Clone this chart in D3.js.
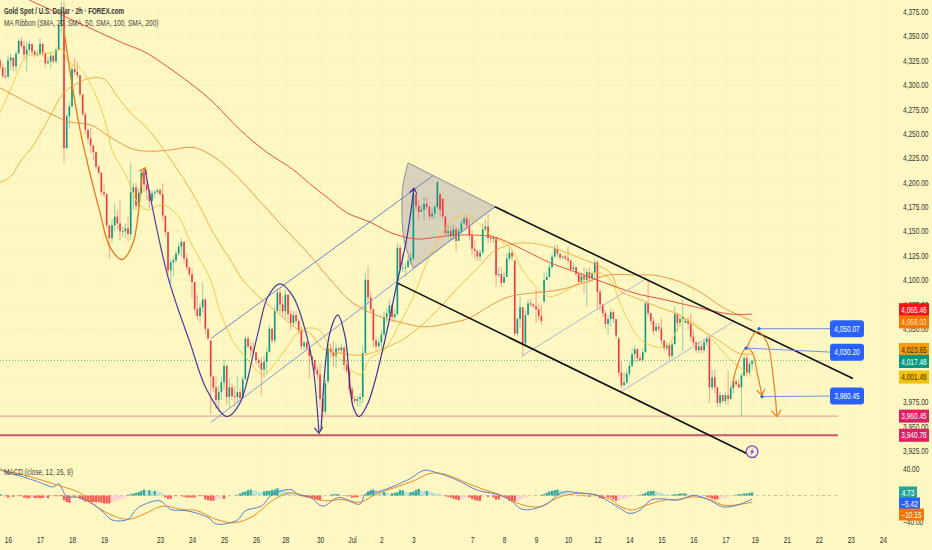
<!DOCTYPE html>
<html>
<head>
<meta charset="utf-8">
<script src="https://cdn.jsdelivr.net/npm/d3@7"></script>
<style>
  html, body { margin: 0; padding: 0; background: #fdf7c2; }
  svg { display: block; font-family: "Liberation Sans", sans-serif; }
</style>
</head>
<body>
<div id="chart"></div>
<script>
// 2h candles, one entry per bar
const opens = [
  4325,4318,4309,4308,4325,4328,4319,4332,4345,4340,
  4331,4336,4342,4334,4331,4332,4342,4333,4322,4324,
  4330,4324,4336,4361,4375,4235,4268,4278,4316,4313,
  4310,4290,4270,4254,4245,4238,4231,4216,4210,4190,
  4188,4156,4143,4156,4165,4158,4150,4150,4153,4147,
  4190,4195,4176,4189,4210,4198,4192,4181,4189,4190,
  4192,4188,4166,4149,4110,4118,4120,4127,4134,4139,
  4122,4113,4106,4098,4070,4063,4072,4080,4050,4038,
  4001,3990,3977,3985,3995,4012,3980,3990,3981,3980,
  3985,3979,3998,4040,4032,4028,4026,4018,4015,4008,
  4016,4026,4050,4038,4068,4087,4075,4068,4085,4065,
  4056,4064,4058,4048,4032,4036,4030,4022,4018,4008,
  4003,3978,3965,3996,4030,4026,4022,4030,4028,4031,
  4013,4007,3988,3978,3976,3978,3980,4025,4100,4082,
  4070,4038,4032,4036,4044,4062,4066,4074,4062,4065,
  4133,4112,4112,4113,4120,4122,4188,4176,4170,4172,
  4178,4175,4165,4168,4175,4188,4183,4165,4148,4150,
  4145,4152,4140,4150,4158,4163,4156,4146,4132,4130,
  4124,4128,4152,4155,4143,4142,4144,4105,4106,4097,
  4103,4122,4128,4120,4045,4060,4072,4035,4064,4076,
  4075,4073,4070,4063,4078,4100,4103,4113,4124,4132,
  4127,4123,4124,4122,4120,4111,4113,4106,4098,4104,
  4100,4108,4102,4107,4118,4088,4075,4066,4055,4060,
  4067,4060,4040,4005,3992,3995,4004,4012,4024,4029,
  4020,4018,4026,4076,4066,4058,4048,4052,4050,4038,
  4030,4033,4022,4034,4065,4056,4060,4056,4058,4055,
  4042,4036,4028,4032,4028,4036,4040,3990,4000,3990,
  3974,3982,3976,3982,3978,3989,3996,3993,3990,4002,
  4020,4005,4014
];
const highs = [
  4328,4322,4318,4330,4332,4325,4335,4347,4349,4345,
  4344,4345,4341,4336,4336,4348,4343,4331,4329,4334,
  4331,4339,4363,4385,4385,4270,4282,4320,4328,4324,
  4309,4290,4272,4254,4256,4233,4232,4218,4210,4197,
  4186,4156,4162,4179,4172,4182,4155,4158,4165,4220,
  4199,4199,4194,4214,4212,4213,4192,4192,4192,4194,
  4194,4199,4166,4150,4121,4124,4131,4138,4143,4140,
  4127,4113,4112,4090,4085,4076,4097,4082,4050,4038,
  4002,4001,3991,4001,4018,4013,3999,3994,3991,4001,
  3989,4001,4042,4043,4036,4036,4024,4020,4021,4022,
  4030,4054,4050,4073,4091,4091,4083,4090,4085,4069,
  4068,4068,4060,4052,4038,4038,4032,4021,4018,4012,
  4015,3975,3998,4035,4035,4038,4035,4032,4035,4032,
  4018,4008,3991,3981,3981,3984,4032,4107,4114,4088,
  4071,4042,4040,4048,4068,4071,4080,4076,4070,4138,
  4136,4127,4117,4124,4127,4192,4185,4182,4177,4185,
  4185,4175,4174,4177,4202,4189,4184,4165,4156,4155,
  4157,4155,4153,4162,4165,4167,4163,4151,4141,4131,
  4131,4158,4162,4168,4146,4146,4145,4113,4113,4109,
  4127,4134,4131,4120,4062,4083,4071,4069,4080,4081,
  4076,4090,4076,4074,4108,4108,4117,4127,4136,4136,
  4127,4125,4126,4134,4119,4118,4113,4109,4108,4113,
  4112,4113,4109,4121,4120,4091,4074,4069,4064,4071,
  4069,4058,4042,4016,4005,4008,4016,4030,4033,4030,
  4024,4030,4078,4100,4066,4062,4056,4056,4061,4038,
  4036,4035,4037,4073,4064,4064,4080,4061,4062,4066,
  4049,4037,4037,4035,4040,4042,4042,4008,4008,3985,
  3985,3981,3985,4008,3992,4001,3998,3998,4005,4022,
  4023,4016,4018
];
const lows = [
  4316,4307,4306,4313,4315,4314,4314,4334,4337,4325,
  4314,4332,4330,4328,4329,4331,4329,4318,4322,4317,
  4322,4322,4338,4353,4220,4235,4255,4277,4310,4307,
  4287,4268,4250,4240,4230,4223,4213,4208,4187,4185,
  4153,4122,4138,4150,4152,4141,4144,4143,4140,4141,
  4172,4172,4175,4188,4190,4182,4174,4180,4184,4188,
  4186,4161,4145,4104,4097,4104,4118,4124,4124,4117,
  4110,4103,4081,4066,4059,4056,4066,4045,4038,3963,
  3985,3968,3965,3977,3987,3972,3968,3977,3970,3974,
  3977,3979,4000,4030,4022,4024,4014,4010,3982,3999,
  4004,4029,4035,4035,4069,4066,4062,4061,4059,4049,
  4052,4054,4044,4028,4028,4027,3999,4012,4004,3998,
  3970,3958,3962,3994,4021,4011,4010,4025,4025,4008,
  4004,3984,3973,3973,3970,3970,3974,4028,4076,4067,
  4031,4028,4030,4030,4042,4057,4062,4057,4058,4064,
  4107,4108,4103,4115,4116,4120,4172,4161,4170,4161,
  4172,4161,4163,4163,4172,4165,4163,4146,4144,4141,
  4141,4129,4141,4148,4158,4153,4141,4126,4122,4120,
  4119,4127,4150,4138,4138,4138,4093,4103,4093,4097,
  4105,4119,4120,4042,4042,4051,4021,4033,4064,4072,
  4071,4056,4059,4054,4077,4101,4105,4112,4123,4124,
  4120,4121,4120,4117,4108,4110,4103,4095,4097,4086,
  4073,4097,4098,4100,4069,4069,4062,4050,4044,4052,
  4056,4040,4001,3989,3991,3993,4001,4010,4015,4016,
  4016,4016,4028,4062,4054,4044,4047,4047,4034,4027,
  4027,4018,4020,4039,4047,4052,4027,4056,4049,4037,
  4033,4025,4025,4025,4027,4032,3974,3987,3984,3970,
  3970,3974,3972,3972,3984,3984,3991,3989,3960,4001,
  4001,4003,4008
];
const closes = [
  4318,4309,4308,4325,4328,4319,4332,4345,4340,4331,
  4336,4342,4334,4331,4332,4342,4333,4322,4324,4330,
  4324,4336,4361,4375,4235,4268,4278,4316,4313,4310,
  4290,4270,4254,4245,4238,4231,4216,4210,4190,4188,
  4156,4143,4156,4165,4158,4150,4150,4153,4147,4190,
  4195,4176,4189,4210,4198,4192,4181,4189,4190,4192,
  4188,4166,4149,4110,4118,4120,4127,4134,4139,4122,
  4113,4106,4098,4070,4063,4072,4080,4050,4040,4001,
  3990,3977,3985,3995,4012,3980,3990,3981,3980,3985,
  3979,3998,4040,4032,4028,4026,4018,4015,4008,4016,
  4026,4050,4038,4068,4087,4075,4068,4085,4065,4056,
  4064,4058,4048,4032,4036,4030,4022,4018,4008,4003,
  3978,3965,3994,4030,4026,4022,4030,4028,4031,4013,
  4007,3988,3978,3976,3978,3980,4025,4100,4082,4070,
  4038,4032,4036,4044,4062,4066,4074,4062,4065,4133,
  4112,4112,4113,4120,4122,4188,4176,4170,4172,4178,
  4175,4165,4168,4175,4200,4172,4165,4148,4150,4145,
  4152,4140,4150,4158,4163,4156,4146,4132,4130,4124,
  4128,4152,4155,4143,4142,4144,4105,4106,4097,4103,
  4122,4128,4124,4045,4060,4072,4035,4064,4076,4075,
  4073,4070,4063,4058,4100,4103,4113,4124,4132,4127,
  4123,4124,4122,4120,4111,4113,4106,4098,4104,4100,
  4108,4102,4107,4118,4088,4075,4066,4055,4060,4067,
  4060,4043,4005,3992,3995,4004,4012,4024,4029,4020,
  4018,4026,4076,4066,4058,4048,4052,4050,4038,4030,
  4033,4022,4034,4065,4056,4060,4062,4058,4055,4042,
  4036,4028,4032,4028,4036,4040,3990,4000,3990,3974,
  3982,3976,3982,3978,3989,3996,3993,3990,4002,4020,
  4005,4014,4017
];

// moving averages, read at the bars listed
const sma20Bars = [0,5,10,15,21,23,26,30,35,40,42,48,51,55,61,67,71,79,82,87,93,99,104,109,112,116,120,124,129,135,139,144,150,155,160,164,170,175,179,185,191,196,202,206,213,220,224,229,232,236,241,249,252,256,260,266,274,282];
const sma20 = [4271,4302,4329,4331,4334,4337,4323,4317,4295,4257,4233,4203,4182,4172,4177,4165,4141,4100,4072,4039,4018,4003,4018,4036,4047,4051,4048,4030,4015,4003,4020,4028,4056,4083,4118,4139,4162,4166,4159,4144,4134,4110,4090,4083,4090,4103,4108,4100,4080,4056,4037,4031,4039,4059,4056,4042,4018,4001];
const sma50Bars = [0,4,8,12,18,24,30,34,39,44,49,55,61,69,75,80,87,91,97,106,112,116,121,127,136,144,151,157,165,171,179,185,191,198,206,216,229,232,240,247,255,261,269,277,282];
const sma50 = [4200,4206,4223,4236,4264,4292,4303,4307,4306,4288,4271,4256,4235,4203,4175,4148,4118,4100,4083,4062,4049,4046,4030,4025,4023,4030,4039,4051,4072,4090,4112,4129,4136,4138,4134,4124,4107,4090,4080,4072,4064,4052,4039,4025,4024];
const sma100Bars = [0,11,20,26,34,41,49,55,63,72,78,87,98,108,116,123,132,141,151,159,169,176,184,191,201,210,220,228,240,245,255,264,271,282];
const sma100 = [4297,4281,4269,4262,4259,4247,4235,4232,4233,4236,4230,4211,4179,4149,4126,4103,4077,4064,4056,4052,4056,4061,4074,4083,4087,4090,4098,4105,4105,4105,4098,4085,4072,4058];
const sma200Bars = [11,46,54,61,78,90,100,110,116,123,130,139,147,156,164,171,185,194,206,216,232,240,249,258,266,274,282];
const sma200 = [4387,4343,4334,4322,4287,4254,4231,4213,4199,4184,4169,4159,4148,4142,4144,4146,4144,4134,4118,4108,4092,4085,4080,4074,4069,4065,4065];

// MACD panel
const macdHist = [
  2,1,-1,-3,-2,-2,-1,-1,-1,-3,
  -4,-4,-3,-4,-4,-4,-4,-3,-4,-1,
  -1,-1,-1,-1,-7,-10,-11,-2,-2,-1,
  -5,-7,-9,-9,-10,-10,-10,-10,-11,-12,
  -12,-12,-11,-9,-8,-6,-5,-4,1,2,
  3,4,5,7,9,8,8,7,7,6,
  5,3,-3,-5,-5,-1,-1,0,-1,-2,
  -3,-3,-3,-3,-1,-1,-1,-6,-7,-8,
  -8,-7,-5,-4,-5,0,0,0,0,1,
  3,5,6,8,9,8,7,6,5,6,
  7,7,8,9,11,9,8,7,6,5,
  4,3,2,-1,-2,-3,-3,-4,-6,-7,
  -7,-2,-1,0,1,2,2,2,0,0,
  -1,-1,-3,-3,-3,-1,0,2,6,8,
  9,7,6,5,5,4,3,3,4,5,
  8,8,6,5,5,6,8,10,8,7,
  7,6,5,4,3,2,1,-1,-2,-3,
  -5,-6,-7,-5,-4,-3,-3,-5,-7,-8,
  -8,-2,-1,-2,-1,-3,-6,-6,-2,-2,
  -4,-8,-9,-9,-8,-6,-5,-3,-2,-1,
  0,0,0,1,2,4,6,7,8,9,
  8,6,5,4,3,2,0,-1,-1,-1,
  -1,-2,-1,-1,-1,-4,-5,-3,-3,-3,
  -6,-8,-7,-6,-5,-4,-2,-1,0,0,
  1,2,4,6,7,7,6,5,4,3,
  2,1,1,2,2,3,3,3,2,1,
  1,0,0,0,0,-2,-3,-5,-6,-6,
  -5,-4,-3,-2,-1,0,1,2,2,3,
  3,4,4.73
];
const macdBars = [0,3,8,14,20,22,25,30,34,39,42,48,51,55,60,64,70,78,81,89,92,98,102,109,112,116,121,127,135,137,142,147,154,159,164,171,179,186,191,196,204,211,217,224,232,236,240,244,248,254,260,265,271,276,282];
const macdLine = [41,34,29,21,13,18,-1,-3,-11,-26,-37,-36,-21,-12,-8,-21,-23,-33,-43,-37,-23,-16,1,9,1,-2,-16,-3,-13,2,6,13,26,38,34,24,8,2,-6,-21,-15,5,4,0,-18,-27,-22,-7,-5,-7,0,-5,-17,-15,-5.42];
const signalBars = [0,8,15,22,30,35,41,48,54,61,68,74,81,88,95,102,109,116,122,128,135,141,148,155,161,166,175,182,187,195,202,210,216,222,229,232,237,242,249,254,260,266,272,282];
const signalLine = [38,32,24,15,4,-13,-28,-36,-28,-16,-21,-23,-36,-41,-31,-8,4,-3,-8,-6,-10,2,12,22,33,33,19,8,2,-13,-17,-2,3,2,-6,-15,-22,-15,-7,-6,-2,-6,-15,-10.15];

// axis labels
const priceTicks = [4375,4350,4325,4300,4275,4250,4225,4200,4175,4150,4125,4100,4075,4050,3975,3950,3925];
const macdTicks = [40,-40];
const dateBars = [3,15,27,39,60,72,84,96,107,120,132,143,155,177,189,201,213,224,236,248,260,272,283,295,307,319,331];
const dateLabels = ['16','17','18','19','23','24','25','26','28','30','Jul','2','3','7','8','9','10','12','14','15','16','17','19','21','22','23','24'];

// drawings on the chart: [bar, price]
const channelTop = [[185.6,4175],[319.8,3999]];
const channelBottom = [[148.9,4097],[283.1,3918]];
const riseUpper = [[79.1,4040],[162.4,4207]];
const riseLower = [[79.1,3954],[185.6,4175]];
const flagUpper = [[195.7,4022],[242.6,4102]];
const flagLower = [[232.5,3985],[274.9,4057]];
const wedgeArc = [[153,4220],[151.1,4197],[150.7,4175],[151.5,4141],[154.9,4112]];
const wedgeCorner = [185.6,4175];
const swingOrange = [[23.6,4363],[30,4254],[37.5,4169],[41.2,4134],[45.7,4121],[49.9,4138],[53.6,4210],[54.4,4215]];
const swingPurpleA = [[54.4,4213],[63,4103],[71.2,4036],[77.6,3987],[85.1,3960],[90,3974],[96.4,4042],[100.5,4083],[105,4096],[109.9,4083],[115.1,4042],[117.4,4011],[119.6,3943]];
const swingPurpleB = [[120.4,3946],[123.7,4046],[126.7,4064],[129.4,4042],[132.4,3970],[134.6,3960],[138,3974],[143.2,4025],[148.9,4097],[152.6,4144],[155.2,4194]];
const pathNear = [[274.5,3990],[276.3,4011],[279.7,4030],[282,4026],[284.2,4001],[285.7,3982]];
const pathFar = [[279.7,4028],[283.8,4047],[287.6,4036],[289.9,4001],[291.3,3960]];

// blue callouts
const calloutBars = [284.6,279.7,285.7];
const calloutPrices = [4050.07,4030.20,3980.45];
const calloutEnds = [4050.07,4026,3981];

const levelPrices = [3960.45,3940.78];
const lastPrice = 4017.48;

// price tags on the right
const tagValues = [4065.46,4058.03,4023.65,4017.48,4001.49,3960.45,3940.78];
const tagFills = ['#f2161a','#f57600','#f59a10','#089981','#f3c20c','#e01e63','#e01e63'];
const tagTexts = ['#fff','#ffe9c8','#402a00','#fff','#402a00','#fff','#fff'];
const tagShift = [-4,1,-5,1,1,0,0];
const macdTagValues = [4.73,-5.42,-10.15];
const macdTagFills = ['#26a69a','#2962ff','#f57600'];
const macdTagWidth = [18,21,25];
const macdTagTop = [486.5,497.5,508.5];

const width = 932, height = 550, plotRight = 838;
const barStep = 2.667;
const fontSize = 8.6;

const svg = d3.select('#chart').append('svg').attr('width', width).attr('height', height);
svg.append('rect').attr('width', width).attr('height', height).attr('fill', '#fdf7c2');

const x = d3.scaleLinear().domain([0, plotRight / barStep]).range([0, plotRight]);
const y = d3.scaleLinear().domain([3925, 4375]).range([450.7, 11.7]);
const macdY = d3.scaleLinear().domain([-40, 40]).range([522, 469]);

// the picture is squeezed sideways, so the text is too
function squeeze(sel, k) {
  sel.each(function () {
    d3.select(this).attr('textLength', this.getComputedTextLength() * k).attr('lengthAdjust', 'spacingAndGlyphs');
  });
}

// grid
const grid = svg.append('g').attr('class', 'grid').attr('stroke', '#f8f1bb').attr('stroke-width', 1);
grid.selectAll('.h').data(priceTicks.concat([4025, 4000])).join('line').attr('class', 'h')
  .attr('x1', 0).attr('x2', plotRight).attr('y1', d => y(d)).attr('y2', d => y(d));
grid.selectAll('.v').data(dateBars).join('line').attr('class', 'v')
  .attr('x1', d => x(d)).attr('x2', d => x(d)).attr('y1', 0).attr('y2', 528);

// triangle shade
const linePts = d3.line().x(d => x(d[0])).y(d => y(d[1]));
const smooth = d3.line().x(d => x(d[0])).y(d => y(d[1])).curve(d3.curveCatmullRom.alpha(0.5));
svg.append('path')
  .attr('d', smooth(wedgeArc) + `L${x(wedgeCorner[0])},${y(wedgeCorner[1])}Z`)
  .attr('fill', '#9f8fb0').attr('fill-opacity', 0.36)
  .attr('stroke', '#8c8c9c').attr('stroke-width', 1);

// price levels
svg.selectAll('.level').data(levelPrices).join('line').attr('class', 'level')
  .attr('x1', 0).attr('x2', plotRight).attr('y1', d => y(d)).attr('y2', d => y(d))
  .attr('stroke', (d, i) => i == 0 ? '#f2a5a0' : '#cc5670')
  .attr('stroke-width', (d, i) => i == 0 ? 1.2 : 2);
svg.append('line').attr('x1', 0).attr('x2', plotRight).attr('y1', y(lastPrice)).attr('y2', y(lastPrice))
  .attr('stroke', '#4fae8c').attr('stroke-width', 0.8).attr('stroke-dasharray', '1,2');

// candles
const bars = d3.range(closes.length);
const candleColor = i => closes[i] >= opens[i] ? '#089981' : '#f23645';
const candles = svg.append('g').attr('class', 'candles');
candles.selectAll('line').data(bars).join('line')
  .attr('x1', i => x(i)).attr('x2', i => x(i))
  .attr('y1', i => y(highs[i])).attr('y2', i => y(lows[i]))
  .attr('stroke', candleColor).attr('stroke-opacity', 0.55).attr('stroke-width', 0.8);
candles.selectAll('rect').data(bars).join('rect')
  .attr('x', i => x(i) - 0.8).attr('width', 1.6)
  .attr('y', i => y(Math.max(opens[i], closes[i])))
  .attr('height', i => Math.max(0.8, Math.abs(y(opens[i]) - y(closes[i]))))
  .attr('fill', candleColor);

// ribbon
const maSeries = [
  { bars: sma20Bars, values: sma20, color: '#f2c53a', w: 0.9 },
  { bars: sma50Bars, values: sma50, color: '#f2aa35', w: 0.9 },
  { bars: sma100Bars, values: sma100, color: '#ee8a3a', w: 0.9 },
  { bars: sma200Bars, values: sma200, color: '#e8503f', w: 1 }
];
maSeries.forEach(s => {
  svg.append('path')
    .attr('d', smooth(s.bars.map((b, i) => [b, s.values[i]])))
    .attr('fill', 'none').attr('stroke', s.color).attr('stroke-width', s.w);
});

// straight drawings
const straight = [
  { pts: riseUpper, color: '#6f84c9', w: 1 },
  { pts: riseLower, color: '#8b97d0', w: 1 },
  { pts: flagUpper, color: '#aeb4d6', w: 1 },
  { pts: flagLower, color: '#aeb4d6', w: 1 },
  { pts: channelTop, color: '#111', w: 1.6 },
  { pts: channelBottom, color: '#111', w: 1.6 }
];
straight.forEach(s => {
  svg.append('path').attr('d', linePts(s.pts)).attr('fill', 'none')
    .attr('stroke', s.color).attr('stroke-width', s.w);
});

// curved swings with arrow heads
function swing(pts, color, w, size) {
  svg.append('path').attr('d', smooth(pts)).attr('fill', 'none')
    .attr('stroke', color).attr('stroke-width', w);
  const a = pts[pts.length - 2], b = pts[pts.length - 1];
  const tipX = x(b[0]), tipY = y(b[1]);
  const ang = Math.atan2(tipY - y(a[1]), tipX - x(a[0]));
  const head = [ang + 2.5, ang - 2.5].map(t => [tipX + size * Math.cos(t), tipY + size * Math.sin(t)]);
  svg.append('path').attr('d', `M${head[0]}L${tipX},${tipY}L${head[1]}`)
    .attr('fill', 'none').attr('stroke', color).attr('stroke-width', w);
}
swing(swingOrange, '#e9791d', 1.3, 7);
swing(swingPurpleA, '#4b3b9e', 1.2, 7);
swing(swingPurpleB, '#3a2f96', 1.2, 6);
swing(pathNear, '#ea7f1e', 1.2, 7);
swing(pathFar, '#ea7f1e', 1.2, 8);

// callouts
const callouts = svg.append('g').selectAll('g').data(calloutPrices).join('g');
callouts.append('line')
  .attr('x1', (d, i) => x(calloutBars[i])).attr('x2', 832)
  .attr('y1', d => y(d)).attr('y2', (d, i) => y(calloutEnds[i]))
  .attr('stroke', '#6f93e8').attr('stroke-width', 1);
callouts.append('circle')
  .attr('cx', (d, i) => x(calloutBars[i])).attr('cy', d => y(d)).attr('r', 1.6).attr('fill', '#2962ff');
callouts.append('rect')
  .attr('x', 830).attr('width', 34).attr('height', 17).attr('rx', 3)
  .attr('y', (d, i) => y(calloutEnds[i]) - 8.5).attr('fill', '#2962ff');
callouts.append('text')
  .attr('x', 847).attr('y', (d, i) => y(calloutEnds[i]) + 3.2)
  .attr('text-anchor', 'middle').attr('fill', '#fff').attr('font-size', fontSize)
  .text(d => d3.format(',.2f')(d))
  .call(squeeze, 0.76);

// flash marker
const flash = svg.append('g').attr('transform', `translate(${x(282)},${y(3924)})`);
flash.append('circle').attr('r', 5.8).attr('fill', '#fbf3d0').attr('stroke', '#7e4fc4').attr('stroke-width', 1.3);
flash.append('path').attr('d', 'M1.6,-4L-2.2,0.8L-0.2,0.8L-1.6,4L2.2,-0.8L0.2,-0.8Z').attr('fill', '#7e4fc4');

// MACD
svg.append('line').attr('x1', 0).attr('x2', plotRight).attr('y1', macdY(0)).attr('y2', macdY(0))
  .attr('stroke', '#bdb99a').attr('stroke-width', 0.8).attr('stroke-dasharray', '3,3');
const histColor = (d, i) => {
  const prev = i ? macdHist[i - 1] : d;
  if (d >= 0) return d >= prev ? '#26a69a' : '#b2dfdb';
  return d <= prev ? '#ff5252' : '#ffcdd2';
};
svg.append('g').selectAll('rect').data(macdHist).join('rect')
  .attr('x', (d, i) => x(i) - 1.1).attr('width', 2.2)
  .attr('y', d => Math.min(macdY(d), macdY(0)))
  .attr('height', d => Math.abs(macdY(d) - macdY(0)))
  .attr('fill', histColor);
const macdCurve = d3.line().x(d => x(d[0])).y(d => macdY(d[1])).curve(d3.curveCatmullRom.alpha(0.5));
svg.append('path').attr('d', macdCurve(signalBars.map((b, i) => [b, signalLine[i]])))
  .attr('fill', 'none').attr('stroke', '#f08a24').attr('stroke-width', 1);
svg.append('path').attr('d', macdCurve(macdBars.map((b, i) => [b, macdLine[i]])))
  .attr('fill', 'none').attr('stroke', '#5d80cc').attr('stroke-width', 1);

// axes
const priceAxis = d3.axisRight(y).tickValues(priceTicks).tickSize(0).tickPadding(0).tickFormat(d3.format(',.2f'));
const macdAxis = d3.axisRight(macdY).tickValues(macdTicks).tickSize(0).tickPadding(0).tickFormat(d3.format(',.2f'));
const dateAxis = d3.axisBottom(x).tickValues(dateBars).tickSize(0).tickPadding(0)
  .tickFormat((d, i) => dateLabels[i]);
[
  svg.append('g').attr('transform', 'translate(903,0)').call(priceAxis),
  svg.append('g').attr('transform', 'translate(903,0)').call(macdAxis),
  svg.append('g').attr('transform', 'translate(0,537)').call(dateAxis)
].forEach(g => {
  g.select('.domain').remove();
  g.selectAll('text').attr('font-size', fontSize).attr('fill', '#333')
    .attr('font-family', '"Liberation Sans", sans-serif').call(squeeze, 0.76);
});

// right tags
const tags = svg.append('g').selectAll('g').data(tagValues).join('g')
  .attr('transform', (d, i) => `translate(899,${y(d) + tagShift[i]})`);
tags.append('rect').attr('y', -6.5).attr('width', 30).attr('height', 13).attr('fill', (d, i) => tagFills[i]);
tags.append('text').attr('x', 15).attr('y', 3.1).attr('text-anchor', 'middle')
  .attr('font-size', fontSize).attr('fill', (d, i) => tagTexts[i]).text(d => d3.format(',.2f')(d))
  .call(squeeze, 0.76);
const mTags = svg.append('g').selectAll('g').data(macdTagValues).join('g')
  .attr('transform', (d, i) => `translate(899,${macdTagTop[i]})`);
mTags.append('rect').attr('width', (d, i) => macdTagWidth[i]).attr('height', 12).attr('fill', (d, i) => macdTagFills[i]);
mTags.append('text').attr('x', (d, i) => macdTagWidth[i] / 2).attr('y', 9).attr('text-anchor', 'middle')
  .attr('font-size', fontSize).attr('fill', '#fff').text(d => d3.format('.2f')(d))
  .call(squeeze, 0.76);

// legends
svg.append('text').attr('x', 4).attr('y', 14).attr('font-size', fontSize).attr('font-weight', 700).attr('fill', '#333')
  .text('Gold Spot / U.S. Dollar · 2h · FOREX.com').call(squeeze, 0.72);
svg.append('text').attr('x', 4).attr('y', 25.5).attr('font-size', fontSize).attr('fill', '#444')
  .text('MA Ribbon (SMA, 20, SMA, 50, SMA, 100, SMA, 200)').call(squeeze, 0.75);
svg.append('text').attr('x', 4).attr('y', 475).attr('font-size', fontSize).attr('fill', '#444')
  .text('MACD (close, 12, 26, 9)').call(squeeze, 0.75);
</script>
</body>
</html>
